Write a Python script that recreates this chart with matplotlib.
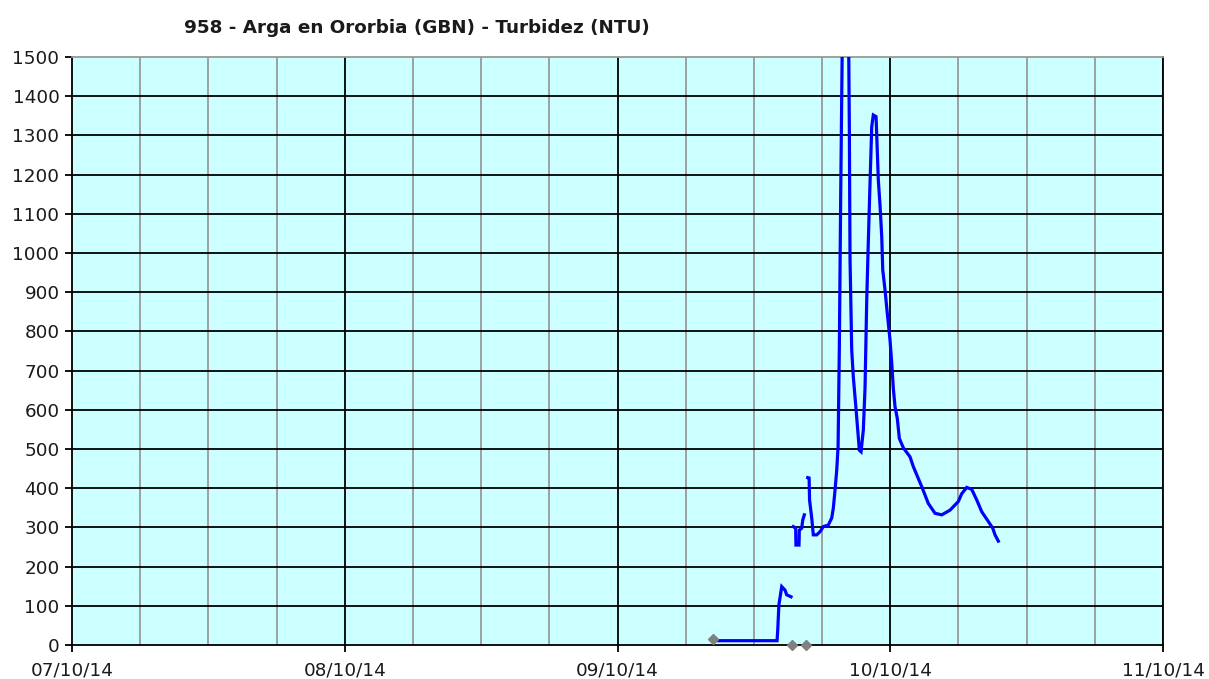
import pandas as pd
import matplotlib
matplotlib.use("Agg")
import matplotlib.pyplot as plt
import matplotlib.dates as mdates
import numpy as np

# Start of the chart (07/10/14 00:00); times are hours after it
Start = pd.Timestamp("2014-10-07 00:00")

# Turbidity (NTU), three measured pieces separated by gaps
Hours1 = [56.85, 62.04, 62.1, 62.2, 62.45, 62.74, 62.89, 63.27]
Ntu1 = [11, 11, 38, 102, 149, 140, 128, 123]

Hours2 = [63.47, 63.68, 63.7, 63.97, 64.0, 64.21, 64.3, 64.44]
Ntu2 = [302, 298, 255, 255, 293, 298, 319, 332]

Hours3 = [64.74, 64.86, 64.9, 65.09, 65.23, 65.53, 65.82, 66.11, 66.55, 66.85,
          66.99, 67.14, 67.29, 67.41, 67.52, 67.64, 67.82, 68.31, 68.4, 68.46,
          68.61, 68.75, 68.96, 69.14, 69.28, 69.43, 69.63, 69.78, 69.93, 70.07,
          70.22, 70.37, 70.51, 70.75, 70.81, 70.95, 71.1, 71.25, 71.34, 71.54,
          71.74, 71.98, 72.13, 72.27, 72.42, 72.62, 72.8, 73.15, 73.74, 74.03,
          74.77, 75.35, 75.94, 76.53, 77.26, 77.99, 78.29, 78.73, 79.17, 79.61,
          80.05, 80.63, 81.02, 81.22, 81.51]
Ntu3 = [427, 426, 370, 324, 281, 281, 289, 302, 306, 324,
        349, 395, 446, 506, 757, 1148, 1650, 1650, 1318, 986,
        752, 684, 612, 548, 497, 493, 548, 655, 880, 1029,
        1178, 1322, 1352, 1348, 1301, 1186, 1122, 1042, 957, 906,
        846, 778, 719, 655, 608, 578, 527, 503, 480, 455,
        404, 361, 336, 332, 344, 366, 386, 402, 397, 370,
        340, 315, 298, 281, 265]

# Grey flagged points
FlagHours = [56.43, 63.38, 64.56]
FlagNtu = [15, 0, 0]

YTicks = list(range(0, 1501, 100))
DayLabels = ["07/10/14", "08/10/14", "09/10/14", "10/10/14", "11/10/14"]


def toTimes(PHours):
    return Start + pd.to_timedelta(PHours, unit="h")


fig = plt.figure(figsize=(12.09, 6.79), dpi=100)
ax = fig.add_axes([72 / 1209, 34 / 679, (1163 - 72) / 1209, (645 - 57) / 679])
ax.set_facecolor("#CCFFFF")

Days = [Start + pd.Timedelta(days=i) for i in range(5)]
ax.set_xlim(Days[0], Days[-1])
ax.set_ylim(0, 1500)

# grid: grey every 6 hours, black at each day and every 100 NTU
for i in range(1, 16):
    if i % 4 != 0:
        ax.axvline(Start + pd.Timedelta(hours=6 * i), color="#999999", lw=1.3, zorder=1)
for i in range(1, 5):
    ax.axvline(Days[i], color="black", lw=1.3, zorder=1)
for v in YTicks[1:-1]:
    ax.axhline(v, color="black", lw=1.3, zorder=1)

for h, n in [(Hours1, Ntu1), (Hours2, Ntu2), (Hours3, Ntu3)]:
    ax.plot(toTimes(h), n, color="#0000FF", lw=2.3, zorder=3, solid_joinstyle="miter")

ax.plot(toTimes(FlagHours), FlagNtu, linestyle="none", marker="D", ms=5.5,
        color="#808080", zorder=4, clip_on=False)

ax.set_xticks(Days)
ax.set_xticklabels(DayLabels)
ax.set_yticks(YTicks)
ax.tick_params(axis="both", labelsize=13.2, direction="out", length=5, width=1.3,
               colors="black", labelcolor="#1a1a1a")
ax.tick_params(axis="x", pad=7)
ax.tick_params(axis="y", pad=4)

for s in ["left", "bottom", "right"]:
    ax.spines[s].set_color("black")
    ax.spines[s].set_linewidth(1.3)
ax.spines["top"].set_color("#999999")
ax.spines["top"].set_linewidth(1.3)

fig.text(417 / 1209, 1 - 28 / 679, "958 - Arga en Ororbia (GBN) - Turbidez (NTU)",
         ha="center", va="center", fontsize=13.2, fontweight="bold", color="#1a1a1a")

fig.savefig("out.png", dpi=100)
